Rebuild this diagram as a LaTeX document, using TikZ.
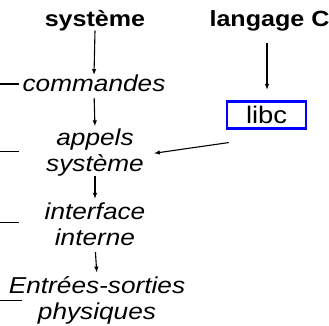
\documentclass[tikz,border=0pt]{standalone}
\usepackage{fontspec}
\usepackage{graphicx}
\setmainfont{Liberation Sans}
\usetikzlibrary{arrows.meta}
\newcommand\hs[1]{\scalebox{1.14}[1]{#1}}
\tikzset{
  lab/.style={inner sep=0pt, outer sep=0pt, anchor=base, align=center},
  boldlab/.style={lab, font=\fontsize{22}{25}\selectfont\bfseries},
  itlab/.style={lab, font=\fontsize{23}{25.5}\selectfont\itshape},
  conn/.style={line width=1.1pt, -{Latex[length=6pt,width=4.5pt]}},
  tick/.style={line width=1.1pt},
  libcbox/.style={draw=blue, line width=2.7pt, inner sep=0pt, minimum width=79pt, minimum height=27pt, font=\fontsize{24}{27}\selectfont}
}
\begin{document}
\begin{tikzpicture}[x=1pt,y=-1pt]
\useasboundingbox (0,0) rectangle (329,325);
\node[boldlab] (sys) at (95,26) {\hs{système}};
\node[boldlab] (lang) at (269.5,26) {\hs{langage C}};
\node[itlab] (cmd) at (94,91.7) {\hs{commandes}};
\node[itlab] (app) at (95,171) {\hs{appels}\\\hs{système}};
\node[itlab] (int) at (95,245) {\hs{interface}\\\hs{interne}};
\node[itlab] (es) at (97,319) {\hs{Entrées-sorties}\\\hs{physiques}};
\node[libcbox] (libc) at (266.6,114.7) {\hs{libc}};
\coordinate (t1a) at (0,84);   \coordinate (t1b) at (19,84);
\coordinate (t2a) at (0,151.7); \coordinate (t2b) at (19,151.7);
\coordinate (t3a) at (0,222.7); \coordinate (t3b) at (19,222.7);
\coordinate (t4a) at (0,300.7); \coordinate (t4b) at (21.7,300.7);
\draw[tick] (t1a) -- (t1b);
\draw[tick] (t2a) -- (t2b);
\draw[tick] (t3a) -- (t3b);
\draw[tick] (t4a) -- (t4b);
\draw[conn] (sys.south) -- (cmd.north);
\draw[conn, shorten <=6pt, shorten >=2.5pt] (cmd.south) -- (app.north);
\draw[conn, shorten >=4pt] (app.south) -- (int.north);
\draw[conn, shorten <=7pt, shorten >=4pt] (int.south) -- (es.north);
\draw[conn, shorten <=12pt, shorten >=10pt] ([xshift=-2.5pt]lang.south) -- ([xshift=0.4pt]libc.north);
\draw[conn] ([xshift=3pt,yshift=-13pt]libc.south west) -- ([xshift=10pt,yshift=-1pt]app.east);
\end{tikzpicture}
\end{document}
